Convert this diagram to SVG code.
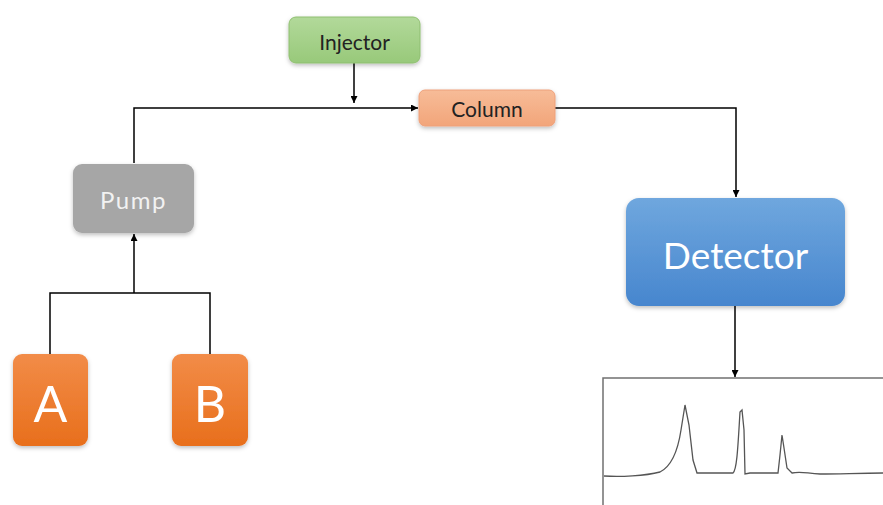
<svg xmlns="http://www.w3.org/2000/svg" width="883" height="505" viewBox="0 0 883 505">
<defs>
<linearGradient id="gGreen" x1="0" y1="0" x2="0" y2="1"><stop offset="0" stop-color="#b2d99a"/><stop offset="1" stop-color="#98c97a"/></linearGradient>
<linearGradient id="gSalmon" x1="0" y1="0" x2="0" y2="1"><stop offset="0" stop-color="#f7bc98"/><stop offset="1" stop-color="#f2a57a"/></linearGradient>
<linearGradient id="gOrange" x1="0" y1="0" x2="0" y2="1"><stop offset="0" stop-color="#f28c48"/><stop offset="1" stop-color="#e86f1c"/></linearGradient>
<linearGradient id="gBlue" x1="0" y1="0" x2="0" y2="1"><stop offset="0" stop-color="#6fa7de"/><stop offset="1" stop-color="#4786ce"/></linearGradient>
<filter id="sh" x="-10%" y="-10%" width="125%" height="130%"><feDropShadow dx="0" dy="2" stdDeviation="2" flood-color="#000" flood-opacity="0.25"/></filter>
<marker id="arr" viewBox="0 0 10 10" refX="10" refY="5" markerWidth="7" markerHeight="7" markerUnits="userSpaceOnUse" orient="auto"><path d="M0,0 L10,5 L0,10 z" fill="#000"/></marker>
</defs>
<style>
.lbl{font-family:Lato,"Open Sans",sans-serif;text-anchor:middle;dominant-baseline:central}
.edge{fill:none;stroke:#000;stroke-width:1.5}
</style>
<g id="connectors">
<path class="edge" d="M134,163 V108 H418" marker-end="url(#arr)"/>
<path class="edge" d="M354,63 V103" marker-end="url(#arr)"/>
<path class="edge" d="M555,108 H736 V197" marker-end="url(#arr)"/>
<path class="edge" d="M134,293 V234" marker-end="url(#arr)"/>
<path class="edge" d="M50,354 V293 H210 V354"/>
<path class="edge" d="M735,306 V377" marker-end="url(#arr)"/>
</g>
<g id="injector"><rect x="289" y="17" width="131" height="46" rx="7" fill="url(#gGreen)" stroke="#8fbf70" filter="url(#sh)"/><text class="lbl" x="354.5" y="41" font-size="21" fill="#222">Injector</text></g>
<g id="column"><rect x="419" y="90" width="136" height="36" rx="6" fill="url(#gSalmon)" stroke="#eea07a" filter="url(#sh)"/><text class="lbl" x="487" y="108" font-size="21" fill="#222">Column</text></g>
<g id="pump"><rect x="73" y="164" width="121" height="69" rx="9" fill="#a6a6a6" filter="url(#sh)"/><text class="lbl" x="133.5" y="199" font-size="24" fill="#f2f2f2" letter-spacing="1.5">Pump</text></g>
<g id="a"><rect x="13" y="354" width="75" height="92" rx="9" fill="url(#gOrange)" filter="url(#sh)"/><text class="lbl" x="50.5" y="403" font-size="50" fill="#fff">A</text></g>
<g id="b"><rect x="172" y="354" width="76" height="92" rx="9" fill="url(#gOrange)" filter="url(#sh)"/><text class="lbl" x="210" y="403" font-size="50" fill="#fff">B</text></g>
<g id="detector"><rect x="626" y="198" width="219" height="108" rx="13" fill="url(#gBlue)" filter="url(#sh)"/><text class="lbl" x="735.5" y="254" font-size="37" fill="#fff">Detector</text></g>
<g id="chromatogram">
<path d="M603,505 V378 H883" fill="none" stroke="#707070" stroke-width="1.5"/>
<path d="M604,476 C620,477 645,476 660,472 C672,466 678,450 681,430 L685,405 L689,425 L693,460 L697,473 L733,473 C737,470 738,445 740,412 L742,410 L744,430 L745,474 L750,473 L778,473 L780,455 L782,435 L784,448 L787,468 L792,473 C800,471 805,473 820,474 C840,474 860,473 883,473" fill="none" stroke="#555" stroke-width="1.3"/>
</g>
</svg>
